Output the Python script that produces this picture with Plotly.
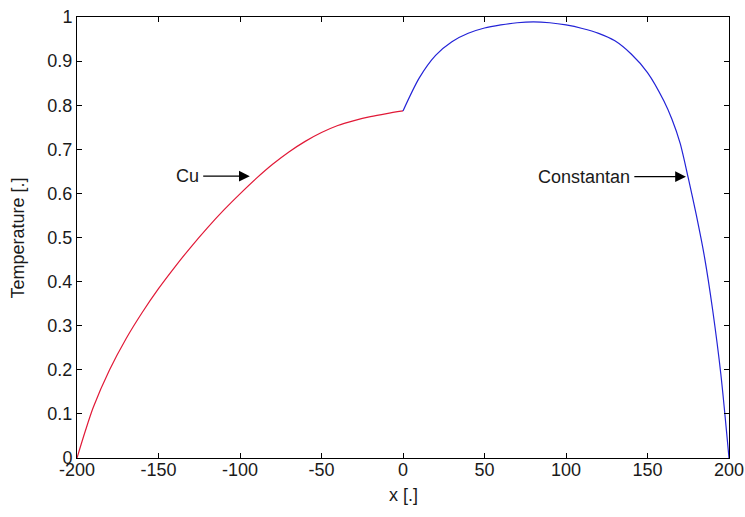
import plotly.graph_objects as go

# Cu segment (left)
cu_x = [-200, -195, -190, -180, -170, -160, -150, -140, -130, -120, -110, -100,
        -90, -80, -70, -60, -50, -40, -30, -20, -10, 0]
cu_y = [0.0, 0.06, 0.115, 0.2, 0.27, 0.33, 0.384, 0.433, 0.479, 0.522, 0.562, 0.599,
        0.634, 0.666, 0.694, 0.718, 0.738, 0.754, 0.765, 0.774, 0.781, 0.787]

# Constantan segment (right)
con_x = [0, 10, 20, 30, 40, 50, 60, 70, 80, 90, 100, 110, 120, 130, 140,
         150, 160, 165, 170, 175, 180, 185, 190, 195, 200]
con_y = [0.787, 0.862, 0.913, 0.944, 0.963, 0.975, 0.982, 0.987, 0.989, 0.987,
         0.982, 0.974, 0.963, 0.946, 0.916, 0.874, 0.81, 0.768, 0.714, 0.635,
         0.55, 0.455, 0.335, 0.19, 0.0]

x_ticks = [-200, -150, -100, -50, 0, 50, 100, 150, 200]
x_tick_labels = ["-200", "-150", "-100", "-50", "0", "50", "100", "150", "200"]
y_ticks = [0, 0.1, 0.2, 0.3, 0.4, 0.5, 0.6, 0.7, 0.8, 0.9, 1]
y_tick_labels = ["0", "0.1", "0.2", "0.3", "0.4", "0.5", "0.6", "0.7", "0.8", "0.9", "1"]

labels = ["Cu", "Constantan"]
arrow_tips = [(-94, 0.639), (173.6, 0.638)]
arrow_tails = [(-123.5, 0.639), (141, 0.638)]

font = dict(family="Liberation Sans, Arial, sans-serif", size=18, color="#1a1a1a")

fig = go.Figure()
fig.add_trace(go.Scatter(x=cu_x, y=cu_y, mode="lines",
                         line=dict(color="rgb(225,25,55)", width=1.2,
                                   shape="spline", smoothing=0.8),
                         showlegend=False))
fig.add_trace(go.Scatter(x=con_x, y=con_y, mode="lines",
                         line=dict(color="rgb(35,35,215)", width=1.2,
                                   shape="spline", smoothing=0.8),
                         showlegend=False))

for lab, tip, tail in zip(labels, arrow_tips, arrow_tails):
    fig.add_annotation(x=tip[0], y=tip[1], ax=tail[0], ay=tail[1],
                       xref="x", yref="y", axref="x", ayref="y",
                       text="", showarrow=True, arrowhead=2, arrowsize=1.8,
                       arrowwidth=1.2, arrowcolor="black")
    fig.add_annotation(x=tail[0], y=tail[1], xref="x", yref="y",
                       text=lab, showarrow=False, xanchor="right",
                       yanchor="middle", xshift=-1, font=font)

# axis titles placed as paper annotations
fig.add_annotation(x=0.5, y=-0.084, xref="paper", yref="paper",
                   text="x [.]", showarrow=False, xanchor="center",
                   yanchor="middle", font=font)
fig.add_annotation(x=-0.0905, y=0.5, xref="paper", yref="paper",
                   text="Temperature [.]", showarrow=False, textangle=-90,
                   xanchor="center", yanchor="middle", font=font)

axis_common = dict(showgrid=False, zeroline=False, showline=True,
                   linecolor="black", linewidth=1, mirror="ticks",
                   ticks="inside", ticklen=5, tickcolor="black",
                   tickfont=font, automargin=False, ticklabeloverflow="allow")

fig.update_layout(
    width=745, height=517,
    margin=dict(l=77, r=16, t=17, b=59),
    paper_bgcolor="white", plot_bgcolor="white",
    font=font,
    xaxis=dict(range=[-200, 200], tickvals=x_ticks, ticktext=x_tick_labels,
               ticklabelstandoff=-5, **axis_common),
    yaxis=dict(range=[0, 1], tickvals=y_ticks, ticktext=y_tick_labels,
               **axis_common),
)

# remove the default 8px body margin so the figure fills the window exactly
fig.write_html("out.html", config={"displayModeBar": False},
               post_script="document.body.style.margin='0px';")
